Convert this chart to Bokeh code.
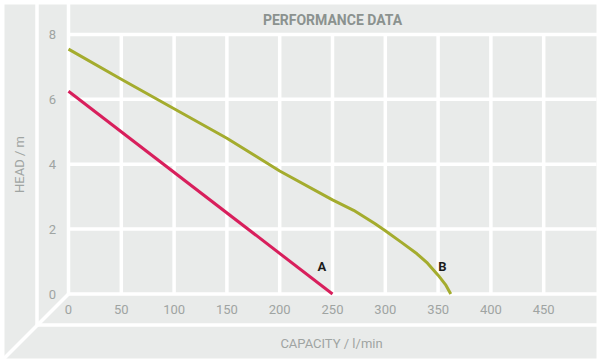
from bokeh.plotting import figure
from bokeh.models import Range1d
from bokeh.core.properties import value
from bokeh.embed import file_html
from bokeh.resources import INLINE

# ---------------- data ----------------
capacity_a = [0, 250]
head_a = [6.25, 0.0]

capacity_b = [0, 50, 100, 150, 200, 250, 270, 290, 300, 315, 330, 340, 350, 357, 362]
head_b = [7.55, 6.62, 5.71, 4.80, 3.79, 2.90, 2.58, 2.17, 1.95, 1.60, 1.24, 0.95, 0.58, 0.29, 0.0]

curve_names = ["A", "B"]
curve_label_x = [240, 354]
curve_label_y = [0.86, 0.86]

x_ticks = [0, 50, 100, 150, 200, 250, 300, 350, 400, 450]
y_ticks = [0, 2, 4, 6, 8]
x_grid = [50, 100, 150, 200, 250, 300, 350, 400, 450]
y_grid = [2, 4, 6]
X_MAX = 500
Y_MAX = 8

title_text = "PERFORMANCE DATA"
x_title = "CAPACITY / l/min"
y_title = "HEAD / m"

# ---------------- styles / layout ----------------
GRAY = "#e9ebea"
TEXT_GRAY = "#9fa4a2"
TITLE_GRAY = "#8b928f"
GREEN = "#a4ac2e"
RED = "#d81f5c"
FONT = "Roboto"

# pixel anchors of the plot area
PX_X0, PX_PER_X = 68.0, 1.056
PX_Y0, PX_PER_Y = 293.5, 32.44
M = 0


def dx(px):
    return (px - PX_X0) / PX_PER_X


def dy(py):
    return (PX_Y0 - py) / PX_PER_Y


W, H = 600, 363
p = figure(width=W, height=H,
           x_range=Range1d(dx(M), dx(M + W)),
           y_range=Range1d(dy(M + H), dy(M)),
           output_backend="svg", toolbar_location=None,
           x_axis_location=None, y_axis_location=None,
           min_border=0, title=None)
p.outline_line_color = None
p.background_fill_color = "white"
p.border_fill_color = "white"
p.xgrid.visible = False
p.ygrid.visible = False

# gray panel background
p.quad(left=dx(4), right=dx(596), top=dy(4), bottom=dy(358),
       fill_color=GRAY, line_color=None)

LW = 3.5
# grid inside the plot area
p.segment(x0=x_grid, y0=[0] * len(x_grid), x1=x_grid, y1=[Y_MAX] * len(x_grid),
          line_color="white", line_width=LW)
p.segment(x0=[0] * len(y_grid), y0=y_grid, x1=[X_MAX] * len(y_grid), y1=y_grid,
          line_color="white", line_width=LW)
# frame edges / panel dividers
p.segment(x0=[0, 0], y0=[Y_MAX, 0], x1=[dx(600), dx(600)], y1=[Y_MAX, 0],
          line_color="white", line_width=LW)
p.segment(x0=[0], y0=[0], x1=[0], y1=[dy(0)], line_color="white", line_width=LW)
p.segment(x0=[dx(36.5)], y0=[dy(324.5)], x1=[dx(36.5)], y1=[dy(0)],
          line_color="white", line_width=LW)
p.segment(x0=[dx(36.5)], y0=[dy(324.5)], x1=[dx(600)], y1=[dy(324.5)],
          line_color="white", line_width=LW)
p.segment(x0=[0], y0=[0], x1=[dx(0)], y1=[dy(PX_Y0 + PX_X0)],
          line_color="white", line_width=LW)

# curves
p.line(capacity_a, head_a, line_color=RED, line_width=3)
p.line(capacity_b, head_b, line_color=GREEN, line_width=3, line_join="round")

p.text(x=curve_label_x, y=curve_label_y, text=curve_names,
       text_font=value(FONT), text_font_style="bold", text_font_size="13px",
       text_color="#1b1b1b", text_align="center", text_baseline="middle")

# tick labels
p.text(x=x_ticks, y=[dy(309)] * len(x_ticks), text=[str(v) for v in x_ticks],
       text_font=value(FONT), text_font_size="13px", text_color=TEXT_GRAY,
       text_align="center", text_baseline="middle")
p.text(x=[dx(52)] * len(y_ticks), y=y_ticks, text=[str(v) for v in y_ticks],
       text_font=value(FONT), text_font_size="13px", text_color=TEXT_GRAY,
       text_align="center", text_baseline="middle")

# axis titles and chart title
p.text(x=[dx(331)], y=[dy(343)], text=[x_title],
       text_font=value(FONT), text_font_size="13px", text_color=TEXT_GRAY,
       text_align="center", text_baseline="middle")
p.text(x=[dx(19)], y=[dy(164)], text=[y_title], angle=1.5708,
       text_font=value(FONT), text_font_size="13px", text_color=TEXT_GRAY,
       text_align="center", text_baseline="middle")
p.text(x=[dx(332)], y=[dy(19)], text=[title_text],
       text_font=value(FONT), text_font_style="bold", text_font_size="14px",
       text_color=TITLE_GRAY, text_align="center", text_baseline="middle")

open("out.html", "w").write(file_html(p, INLINE))
